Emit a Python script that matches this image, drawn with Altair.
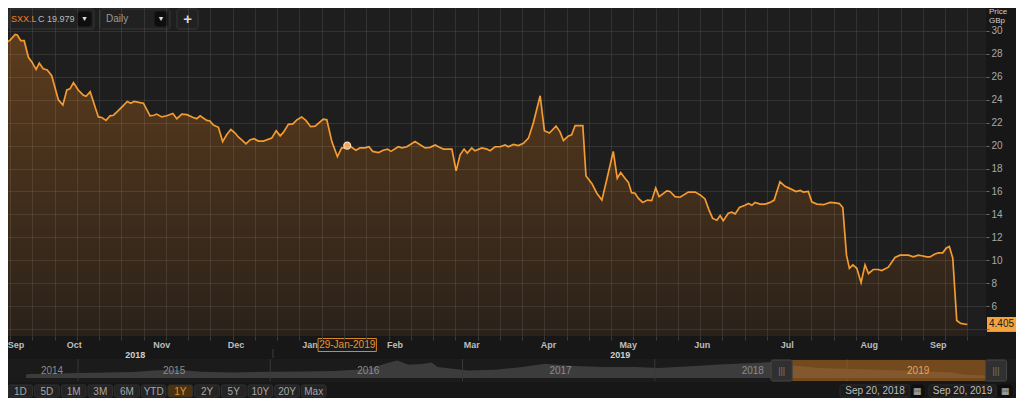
import altair as alt
import pandas as pd

# ---------------- data ----------------
start_date = pd.Timestamp("2018-09-20")
day_offsets = [
    0.0, 1.9, 3.8, 5.7, 6.5, 7.8, 9.1, 10.7, 12.0, 13.6, 14.8, 16.3, 17.8, 19.5,
    22.0, 23.7, 25.2, 26.4, 27.7, 29.5, 31.4, 32.5, 34.0, 37.1, 38.4, 40.0, 41.5,
    42.8, 44.6, 46.3, 48.0, 49.3, 50.6, 52.8, 54.1, 56.6, 58.1, 59.1, 61.0, 62.9,
    65.2, 66.7, 68.6, 70.5, 72.9, 74.2, 75.5, 78.0, 79.2, 80.5, 82.4, 84.0, 85.5,
    87.1, 88.7, 89.9, 91.2, 92.8, 94.3, 95.8, 97.5, 99.4, 102.5, 104.2, 105.7,
    106.9, 108.8, 110.5, 112.0, 113.8, 115.4, 117.2, 118.9, 121.4, 122.0, 123.3,
    125.2, 127.3, 128.9, 130.8, 131.7, 134.3, 135.8, 137.7, 139.2, 140.6, 142.8,
    144.6, 146.2, 147.5, 150.3, 151.6, 153.5, 156.6, 160.4, 162.3, 164.2, 165.4,
    167.3, 170.5, 172.1, 173.6, 175.1, 176.3, 178.0, 179.2, 181.8, 183.7, 184.9,
    186.8, 188.7, 190.6, 191.8, 193.7, 195.6, 197.5, 199.4, 201.2, 203.8, 205.4,
    207.3, 209.8, 211.3, 212.6, 214.5, 215.7, 217.0, 219.9, 221.1, 223.3, 225.2,
    227.1, 228.9, 231.4, 232.9, 234.2, 235.8, 237.1, 238.3, 239.6, 240.9, 242.5,
    244.3, 245.9, 247.4, 248.7, 251.6, 252.8, 254.7, 256.6, 259.7, 262.3, 264.2,
    266.0, 267.5, 268.9, 270.5, 271.7, 272.9, 274.8, 276.1, 277.4, 279.0, 281.1,
    282.4, 283.7, 284.9, 286.8, 288.7, 290.6, 292.1, 294.3, 296.2, 298.1, 300.4,
    301.9, 303.1, 305.0, 306.3, 308.2, 310.7, 313.2, 315.1, 316.7, 318.0, 319.4,
    320.5, 321.8, 323.3, 324.9, 326.4, 327.7, 329.5, 331.4, 332.7, 335.2, 337.7,
    339.6, 342.8, 344.6, 346.5, 347.8, 349.7, 350.9, 352.8, 354.1, 355.7, 357.0,
    358.2, 359.5, 361.0, 362.5, 365.0,
]
prices = [
    29.9, 28.9, 29.2, 29.7, 29.65, 29.15, 29.15, 27.7, 27.3, 26.65, 27.2, 26.7, 26.6, 26.1,
    24.0, 23.55, 24.85, 24.95, 25.5, 24.85, 24.4, 24.3, 24.7, 22.5, 22.45, 22.2, 22.6,
    22.65, 23.05, 23.45, 23.85, 23.7, 23.85, 23.75, 23.7, 22.6, 22.65, 22.75, 22.5, 22.6,
    22.8, 22.35, 22.75, 22.7, 22.45, 22.35, 22.6, 22.2, 22.15, 21.8, 21.6, 20.35, 20.95,
    21.4, 21.1, 20.75, 20.5, 20.15, 20.5, 20.6, 20.4, 20.4, 20.65, 21.3, 20.85,
    21.15, 21.85, 21.9, 22.25, 22.5, 22.2, 21.65, 21.7, 22.2, 22.3, 22.25,
    20.35, 19.05, 19.8, 19.8, 20.0, 19.6, 19.8, 19.8, 19.9, 19.5, 19.4,
    19.6, 19.7, 19.5, 19.9, 19.8, 19.9, 20.35, 19.8, 19.85, 20.05, 19.9,
    19.7, 19.7, 17.8, 19.2, 19.7, 19.35, 19.8, 19.55, 19.8, 19.7, 19.55,
    19.9, 19.9, 20.05, 19.9, 20.1, 20.0, 20.2, 20.65, 21.95, 24.35, 21.3,
    21.1, 21.7, 21.2, 20.45, 20.85, 20.95, 21.75, 21.75, 17.35, 16.7, 15.85,
    15.25, 17.0, 19.5, 17.15, 17.65, 17.15, 16.8, 15.9, 15.85, 15.4, 15.05,
    15.25, 15.2, 16.3, 15.55, 16.05, 16.0, 15.55, 15.5, 15.95, 15.95, 15.7,
    15.35, 14.4, 13.65, 13.5, 13.9, 13.45, 14.1, 14.2, 14.05, 14.6, 14.8,
    14.95, 14.8, 15.05, 14.9, 14.9, 15.05, 15.25, 16.85, 16.45, 16.25, 16.0,
    16.1, 15.95, 16.0, 15.1, 14.9, 14.85, 15.05, 15.0, 14.95, 14.6, 10.45,
    9.3, 9.6, 9.3, 8.05, 9.6, 8.85, 9.2, 9.2, 9.1, 9.4, 10.25,
    10.45, 10.45, 10.3, 10.45, 10.4, 10.3, 10.3, 10.55, 10.65, 10.65, 11.05,
    11.2, 10.2, 4.75, 4.5, 4.405,
]

month_labels = ["Sep", "Oct", "Nov", "Dec", "Jan", "Feb", "Mar", "Apr", "May", "Jun", "Jul", "Aug", "Sep"]
month_label_dates = ["2018-09-26", "2018-10-18", "2018-11-20", "2018-12-18", "2019-01-15",
                     "2019-02-16", "2019-03-17", "2019-04-15", "2019-05-15", "2019-06-12",
                     "2019-07-14", "2019-08-14", "2019-09-09"]
year_labels = ["2018", "2019"]
year_label_dates = ["2018-11-10", "2019-05-12"]
year_break = ["2019-01-01"]
y_ticks = list(range(4, 31, 2))

last_price = 4.405
hover_date = "2019-01-29"
hover_price = 20.0
hover_text = "29-Jan-2019"

nav_years = [2014.73, 2014.75, 2015.00, 2015.29, 2015.39, 2015.50, 2015.64, 2015.81, 2016.00,
             2016.16, 2016.33, 2016.51, 2016.61, 2016.66, 2016.72, 2016.79, 2016.84, 2016.87,
             2016.96, 2017.03, 2017.17, 2017.31, 2017.43, 2017.55, 2017.73, 2017.90, 2018.02,
             2018.16, 2018.34, 2018.51, 2018.61, 2018.73, 2018.86, 2019.02, 2019.29, 2019.55,
             2019.61, 2019.73, 2019.78]
nav_heights = [3.5, 4.0, 5.0, 6.0, 7.5, 8.3, 6.3, 5.6, 6.3,
               6.6, 7.0, 9.0, 15.0, 17.6, 13.3, 14.0, 15.6, 11.0,
               9.0, 7.6, 8.3, 11.0, 14.3, 12.3, 11.0, 11.0, 10.0,
               11.6, 13.6, 15.0, 16.0, 12.3, 10.0, 9.0, 7.6, 5.6,
               3.3, 2.6, 2.6]
nav_year_labels = ["2014", "2015", "2016", "2017", "2018", "2019"]
nav_year_label_pos = [2014.865, 2015.5, 2016.51, 2017.51, 2018.51, 2019.37]
nav_year_breaks = [2015, 2016, 2017, 2018, 2019]
selection_start, selection_end = 2018.715, 2019.72
handle_starts = [2018.605, 2019.72]
handle_ends = [2018.715, 2019.83]

buttons = ["1D", "5D", "1M", "3M", "6M", "YTD", "1Y", "2Y", "5Y", "10Y", "20Y", "Max"]
active_button = "1Y"
range_from, range_to = "Sep 20, 2018", "Sep 20, 2019"
ticker, close_text, interval_text = "SXX.L", "C 19.979", "Daily"

# ---------------- styling ----------------
FONT = "Liberation Sans"
ORANGE = "#f39a30"
W, H = 978, 328

price_df = pd.DataFrame({"date": start_date + pd.to_timedelta(day_offsets, unit="D"), "price": prices})
month_df = pd.DataFrame({"date": pd.to_datetime(month_label_dates), "label": month_labels})
year_df = pd.DataFrame({"date": pd.to_datetime(year_label_dates), "label": year_labels})
break_df = pd.DataFrame({"date": pd.to_datetime(year_break)})
hd = pd.Timestamp(hover_date)
hover_df = pd.DataFrame({"date": [hd], "price": [hover_price],
                         "x0": [hd - pd.Timedelta(days=11)], "x1": [hd + pd.Timedelta(days=11)],
                         "label": [hover_text]})
badge_df = pd.DataFrame({"price": [last_price], "hi": [last_price + 0.65], "lo": [last_price - 0.65],
                         "label": [f"{last_price:.3f}"]})

grid_start = pd.Timestamp("2018-09-23 19:00")
grid_ms = [int((grid_start + i * pd.Timedelta(hours=201.6)).value // 10**6) for i in range(44)]

xs = alt.Scale(domain=[alt.DateTime(year=2018, month=9, date=23),
                       alt.DateTime(year=2019, month=9, date=27, hours=1)], nice=False)
ys = alt.Scale(domain=[3.4, 32], nice=False, zero=False)

x_axis = alt.Axis(values=grid_ms, labels=False, ticks=True, tickSize=4, tickColor="#3c3c3c",
                  domain=False, grid=True, gridColor="#ffffff", gridOpacity=0.09, title=None, zindex=1)
y_axis = alt.Axis(orient="right", values=y_ticks, grid=True, gridColor="#ffffff", gridOpacity=0.09,
                  domain=False, tickSize=3, tickColor="#6a6a6a", labelColor="#a8a8a8",
                  labelFontSize=10, labelPadding=2, labelFont=FONT, title=None, zindex=1,
                  labelExpr="datum.value == 4 ? '' : datum.label")


def X(f):
    return alt.X(f, scale=xs, axis=x_axis, title=None)


def Y(f):
    return alt.Y(f, scale=ys, axis=y_axis, title=None)


one = pd.DataFrame({"k": [0]})

gradient = alt.Gradient(gradient="linear",
                        stops=[alt.GradientStop(color="#5c3c1c", offset=0),
                               alt.GradientStop(color="#241e1a", offset=1)],
                        x1=1, x2=1, y1=0, y2=1)

area = alt.Chart(price_df).mark_area(clip=True, color=gradient).encode(
    x=X("date:T"), y=Y("price:Q"), y2=alt.value(H))
line = alt.Chart(price_df).mark_line(clip=True, color=ORANGE, strokeWidth=1.7).encode(
    x=X("date:T"), y=Y("price:Q"))
marker = alt.Chart(hover_df).mark_circle(size=48, color="#f7a552", stroke="#ffdcb0",
                                         strokeWidth=1.2, opacity=1).encode(
    x=X("date:T"), y=Y("price:Q"))

months = alt.Chart(month_df).mark_text(fontSize=9, fontWeight="bold", color="#bdbdbd", font=FONT,
                                       baseline="middle").encode(
    x=X("date:T"), y=alt.value(337), text="label:N")
years = alt.Chart(year_df).mark_text(fontSize=9, fontWeight="bold", color="#cfcfcf", font=FONT,
                                     baseline="middle").encode(
    x=X("date:T"), y=alt.value(346.5), text="label:N")
year_rule = alt.Chart(break_df).mark_rule(color="#3e3e3e").encode(
    x=X("date:T"), y=alt.value(341), y2=alt.value(350))

tip_box = alt.Chart(hover_df).mark_rect(fill="#1a1a1a", stroke="#d8862a", strokeWidth=1).encode(
    x=X("x0:T"), x2="x1:T", y=alt.value(330.5), y2=alt.value(343.5))
tip_text = alt.Chart(hover_df).mark_text(color="#ec9232", fontSize=10, font=FONT, baseline="middle").encode(
    x=X("date:T"), y=alt.value(337), text="label:N")

badge = alt.Chart(badge_df).mark_rect(fill="#f6a33c").encode(
    x=alt.value(979), x2=alt.value(1008), y=Y("hi:Q"), y2="lo:Q")
badge_text = alt.Chart(badge_df).mark_text(color="#1c1c1c", fontSize=10, font=FONT, baseline="middle").encode(
    x=alt.value(993.5), y=Y("price:Q"), text="label:N")

price_lbl = alt.Chart(pd.DataFrame({"t": ["Price"]})).mark_text(
    color="#cfcfcf", fontSize=8, font=FONT, align="left", baseline="middle").encode(
    x=alt.value(981), y=alt.value(4), text="t:N")
gbp_lbl = alt.Chart(pd.DataFrame({"t": ["GBp"]})).mark_text(
    color="#cfcfcf", fontSize=8, font=FONT, align="left", baseline="middle").encode(
    x=alt.value(981), y=alt.value(13), text="t:N")


# top toolbar
def box(x0, x1, y0, y1, fill="#212121", stroke="#363636"):
    return alt.Chart(one).mark_rect(fill=fill, stroke=stroke, strokeWidth=1, cornerRadius=2).encode(
        x=alt.value(x0), x2=alt.value(x1), y=alt.value(y0), y2=alt.value(y1))


def label(txt, x, y, color, size=10, weight="normal", align="left"):
    return alt.Chart(pd.DataFrame({"t": [txt]})).mark_text(
        color=color, fontSize=size, fontWeight=weight, font=FONT, align=align, baseline="middle").encode(
        x=alt.value(x), y=alt.value(y), text="t:N")


toolbar = [
    box(1, 86, 1, 21),
    label(ticker, 3, 11, "#e8861e", 9),
    label(close_text, 30, 11, "#b8b8b8", 9),
    box(70, 83, 4, 18, fill="#0e0e0e", stroke="#0e0e0e"),
    label("▼", 76.5, 11, "#e0e0e0", 7, align="center"),
    box(92, 162, 1, 21),
    label(interval_text, 98, 11, "#9a9a9a", 10),
    box(147, 159, 4, 18, fill="#0e0e0e", stroke="#0e0e0e"),
    label("▼", 153, 11, "#e0e0e0", 7, align="center"),
    box(169, 190, 1, 21),
    label("+", 179.5, 11, "#d8d8d8", 15, "bold", align="center"),
]

# date range boxes
date_boxes = [
    box(832, 902, 377, 389, fill="#1c1c1c", stroke="#2c2c2c"),
    label(range_from, 867, 383, "#bdbdbd", 10, align="center"),
    box(903, 916, 377, 389, fill="#0f0f0f", stroke="#0f0f0f"),
    label("▦", 909.5, 383, "#bdbdbd", 9, align="center"),
    box(921, 988, 377, 389, fill="#1c1c1c", stroke="#2c2c2c"),
    label(range_to, 954.5, 383, "#bdbdbd", 10, align="center"),
    box(990, 1004, 377, 389, fill="#0f0f0f", stroke="#0f0f0f"),
    label("▦", 997, 383, "#bdbdbd", 9, align="center"),
]

main = alt.layer(area, line, months, year_rule, years, tip_box, tip_text, marker, badge, badge_text,
                 price_lbl, gbp_lbl, *toolbar, *date_boxes)

# ---------------- navigator ----------------
nx = alt.Scale(domain=[2015, 2019], range=[70, 839], nice=False, zero=False)
ny = alt.Scale(domain=[0, 20], range=[370, 350], nice=False, zero=False)
nav_df = pd.DataFrame({"yr": nav_years, "h": nav_heights})
nav_lbl_df = pd.DataFrame({"yr": nav_year_label_pos, "label": nav_year_labels,
                           "c": ["#8c8c8c"] * 5 + ["#e2a462"]})
nav_break_df = pd.DataFrame({"yr": nav_year_breaks})
sel_df = pd.DataFrame({"a": [selection_start], "b": [selection_end]})
handle_df = pd.DataFrame({"a": handle_starts, "b": handle_ends,
                          "m": [(s + e) / 2 for s, e in zip(handle_starts, handle_ends)], "t": ["|||", "|||"]})

nav_bg = alt.Chart(one).mark_rect(fill="#1b1b1b").encode(
    x=alt.value(0), x2=alt.value(1008), y=alt.value(351), y2=alt.value(374))
nav_area = alt.Chart(nav_df).mark_area(color="#3c3c3c").encode(
    x=alt.X("yr:Q", scale=nx, axis=None), y=alt.Y("h:Q", scale=ny, axis=None), y2=alt.value(370))
nav_breaks = alt.Chart(nav_break_df).mark_rule(color="#383838").encode(
    x=alt.X("yr:Q", scale=nx, axis=None), y=alt.value(351), y2=alt.value(373))
nav_sel = alt.Chart(sel_df).mark_rect(fill="#c07020", opacity=0.55).encode(
    x=alt.X("a:Q", scale=nx, axis=None), x2="b:Q", y=alt.value(352), y2=alt.value(373))
nav_labels = alt.Chart(nav_lbl_df).mark_text(fontSize=10, font=FONT, baseline="middle").encode(
    x=alt.X("yr:Q", scale=nx, axis=None), y=alt.value(362.5), text="label:N",
    color=alt.Color("c:N", scale=None))
handles = alt.Chart(handle_df).mark_rect(fill="#303030", stroke="#474747", strokeWidth=1, cornerRadius=2).encode(
    x=alt.X("a:Q", scale=nx, axis=None), x2="b:Q", y=alt.value(352), y2=alt.value(373))
handle_txt = alt.Chart(handle_df).mark_text(color="#7a7a7a", fontSize=9, font=FONT, baseline="middle").encode(
    x=alt.X("m:Q", scale=nx, axis=None), y=alt.value(362.5), text="t:N")

nav = alt.layer(nav_bg, nav_area, nav_breaks, nav_sel, nav_labels, handles, handle_txt)

# ---------------- range buttons ----------------
btn_df = pd.DataFrame({
    "label": buttons,
    "fill": ["#4d3210" if b == active_button else "#242424" for b in buttons],
    "tc": ["#e8902a" if b == active_button else "#a8a8a8" for b in buttons],
})
bx = alt.Scale(domain=buttons, range=[0, 318], paddingInner=0.08, paddingOuter=0)
btn_rect = alt.Chart(btn_df).mark_rect(stroke="#333333", strokeWidth=1, cornerRadius=2).encode(
    x=alt.X("label:N", scale=bx, axis=None, sort=buttons), y=alt.value(377), y2=alt.value(389),
    fill=alt.Fill("fill:N", scale=None))
btn_text = alt.Chart(btn_df).mark_text(fontSize=10, font=FONT, baseline="middle").encode(
    x=alt.X("label:N", scale=bx, axis=None, sort=buttons), y=alt.value(383.5), text="label:N",
    color=alt.Color("tc:N", scale=None))
btns = alt.layer(btn_rect, btn_text)

chart = alt.layer(main, nav, btns).resolve_scale(x="independent", y="independent").properties(
    width=W, height=H,
    padding={"left": 0, "top": 0, "right": 30, "bottom": 62},
    autosize=alt.AutoSizeParams(type="none"),
).configure(background="#171717", font=FONT).configure_view(fill="#1e1e1e", stroke=None)

chart.save("out.html", embed_options={"renderer": "svg", "actions": False})
